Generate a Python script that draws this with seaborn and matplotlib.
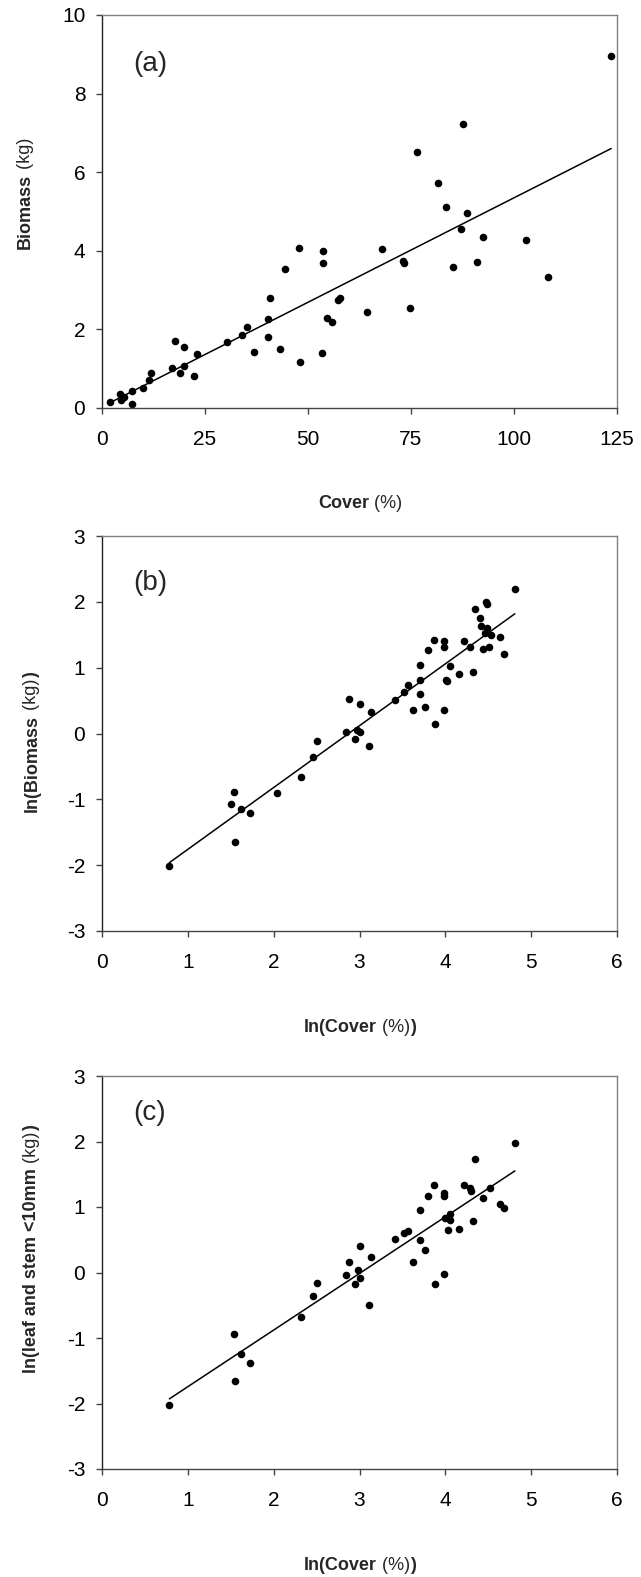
import numpy as np
import matplotlib
matplotlib.use("Agg")
import matplotlib.pyplot as plt
import seaborn as sns

# panel (a): raw cover vs biomass
cover_a = [2.0, 4.3, 4.6, 5.4, 7.3, 7.3, 10.0, 11.3, 12.0, 17.1, 18.9, 19.8, 22.3, 23.1,
           19.9, 17.6, 30.3, 37.0, 43.1, 48.1, 53.5, 34.0, 35.1, 40.2, 40.2, 40.8, 44.4,
           47.9, 53.7, 53.7, 54.7, 55.9, 57.3, 57.8, 64.3, 68.0, 73.0, 73.4, 74.8, 76.5,
           81.6, 83.6, 85.3, 87.2, 87.5, 88.6, 90.9, 92.5, 102.9, 108.3, 123.6]
biomass_a = [0.15, 0.35, 0.20, 0.28, 0.42, 0.10, 0.52, 0.70, 0.90, 1.02, 0.90, 1.07, 0.82, 1.37,
             1.56, 1.70, 1.68, 1.42, 1.49, 1.16, 1.41, 1.86, 2.07, 1.81, 2.26, 2.79, 3.54,
             4.08, 4.00, 3.70, 2.28, 2.19, 2.75, 2.80, 2.44, 4.04, 3.75, 3.70, 2.54, 6.51,
             5.73, 5.11, 3.59, 4.56, 7.23, 4.96, 3.72, 4.35, 4.27, 3.34, 8.96]

# panel (b): ln cover vs ln biomass
ln_cover_b = [0.785, 1.535, 1.50, 1.616, 1.725, 1.546, 2.04, 2.32, 2.455, 2.50, 2.88, 2.84, 3.0,
              2.95, 2.97, 3.0, 3.13, 3.11, 3.415, 3.52, 3.56, 3.62, 3.70, 3.70, 3.71, 3.76,
              3.80, 3.87, 3.88, 3.98, 3.99, 3.98, 4.01, 4.02, 4.05, 4.16, 4.22, 4.29, 4.32,
              4.34, 4.40, 4.42, 4.475, 4.48, 4.48, 4.46, 4.53, 4.44, 4.51, 4.635, 4.68, 4.81]
ln_biomass_b = [-2.01, -0.89, -1.07, -1.15, -1.20, -1.65, -0.90, -0.66, -0.36, -0.11, 0.53, 0.02, 0.45,
                -0.09, 0.06, 0.03, 0.33, -0.19, 0.51, 0.63, 0.73, 0.36, 0.82, 0.60, 1.04, 0.41,
                1.27, 1.42, 0.15, 1.41, 1.32, 0.35, 0.82, 0.79, 1.03, 0.90, 1.41, 1.32, 0.94,
                1.89, 1.75, 1.64, 1.99, 1.96, 1.61, 1.52, 1.49, 1.29, 1.32, 1.46, 1.21, 2.20]

# panel (c): ln cover vs ln leaf and stem <10mm
ln_cover_c = [0.785, 1.54, 1.616, 1.725, 1.546, 2.32, 2.455, 2.50, 2.84, 2.88, 2.95, 2.98, 3.0,
              3.0, 3.13, 3.11, 3.415, 3.52, 3.56, 3.62, 3.70, 3.71, 3.76, 3.80, 3.87, 3.88,
              3.98, 3.99, 3.98, 4.0, 4.05, 4.06, 4.03, 4.16, 4.22, 4.29, 4.30, 4.32, 4.34,
              4.44, 4.52, 4.635, 4.68, 4.81]
ln_leafstem_c = [-2.02, -0.94, -1.24, -1.38, -1.66, -0.68, -0.36, -0.16, -0.04, 0.16, -0.17, 0.04, -0.09,
                 0.41, 0.24, -0.49, 0.51, 0.61, 0.64, 0.16, 0.50, 0.95, 0.34, 1.17, 1.34, -0.17,
                 1.21, 1.17, -0.03, 0.83, 0.90, 0.80, 0.65, 0.66, 1.34, 1.29, 1.24, 0.79, 1.74,
                 1.14, 1.29, 1.04, 0.98, 1.97]

sns.set_style("ticks")
plt.rcParams['font.family'] = ['Liberation Sans', 'DejaVu Sans']
plt.rcParams['axes.unicode_minus'] = False

W, H = 641, 1577
fig = plt.figure(figsize=(W / 100, H / 100), dpi=100)


def add_axes(top_px, bottom_px):
    left, right = 102, 617
    return fig.add_axes([left / W, 1 - bottom_px / H, (right - left) / W, (bottom_px - top_px) / H])


def mixed_text(x, y, parts, size=13, rotation=0):
    # draw bold/normal pieces one after another, centred on (x, y) in figure fraction
    texts = [fig.text(0, 0, s, fontsize=size, fontweight=w, rotation=rotation,
                      rotation_mode='anchor', ha='left', va='center') for s, w in parts]
    fig.canvas.draw()
    r = fig.canvas.get_renderer()
    sizes = []
    for t in texts:
        bb = t.get_window_extent(r)
        sizes.append(bb.height if rotation == 90 else bb.width)
    pos = -sum(sizes) / 2
    for t, s in zip(texts, sizes):
        if rotation == 90:
            t.set_position((x, y + pos / H))
        else:
            t.set_position((x + pos / W, y))
        pos += s


def style(ax, xlim, ylim, xticks, yticks, tag, tag_y):
    ax.set_xlim(xlim)
    ax.set_ylim(ylim)
    ax.set_xticks(xticks)
    ax.set_yticks(yticks)
    ax.set_xlabel("")
    ax.set_ylabel("")
    for side in ['top', 'right', 'left', 'bottom']:
        ax.spines[side].set_visible(True)
        ax.spines[side].set_linewidth(1.0)
    ax.spines['top'].set_color('#808080')
    ax.spines['right'].set_color('#808080')
    ax.spines['left'].set_color('#222222')
    ax.spines['bottom'].set_color('#444444')
    ax.tick_params(axis='both', direction='out', length=4, width=1, labelsize=15,
                   color='#444444', labelcolor='black')
    ax.tick_params(axis='x', pad=12)
    ax.tick_params(axis='y', pad=8)
    ax.text(0.06, tag_y, tag, transform=ax.transAxes, fontsize=20, ha='left', va='center')


pts = dict(s=30, color='black', linewidths=0, alpha=1)
line = dict(color='black', lw=1.1)

# (a)
ax = add_axes(15, 408)
sns.regplot(x=cover_a, y=biomass_a, ax=ax, ci=None, scatter_kws=pts, line_kws=line)
style(ax, (0, 125), (0, 10), [0, 25, 50, 75, 100, 125], [0, 2, 4, 6, 8, 10], "(a)", 0.875)

# (b)
ax = add_axes(536, 931)
sns.regplot(x=ln_cover_b, y=ln_biomass_b, ax=ax, ci=None, scatter_kws=pts, line_kws=line)
style(ax, (0, 6), (-3, 3), range(0, 7), range(-3, 4), "(b)", 0.88)

# (c)
ax = add_axes(1076, 1469)
sns.regplot(x=ln_cover_c, y=ln_leafstem_c, ax=ax, ci=None, scatter_kws=pts, line_kws=line)
style(ax, (0, 6), (-3, 3), range(0, 7), range(-3, 4), "(c)", 0.905)

# axis titles (bold with normal-weight units)
mixed_text(25 / W, 1 - 193 / H, [("Biomass", 'bold'), (" (kg)", 'normal')], rotation=90)
mixed_text(360 / W, 1 - 504 / H, [("Cover", 'bold'), (" (%)", 'normal')])
mixed_text(32 / W, 1 - 742 / H, [("ln(Biomass", 'bold'), (" (kg)", 'normal'), (")", 'bold')], rotation=90)
mixed_text(360 / W, 1 - 1028 / H, [("ln(Cover", 'bold'), (" (%)", 'normal'), (")", 'bold')])
mixed_text(32 / W, 1 - 1249 / H, [("ln(leaf and stem <10mm", 'bold'), (" (kg)", 'normal'), (")", 'bold')], rotation=90)
mixed_text(360 / W, 1 - 1565 / H, [("ln(Cover", 'bold'), (" (%)", 'normal'), (")", 'bold')])

fig.savefig("out.png", dpi=100)
